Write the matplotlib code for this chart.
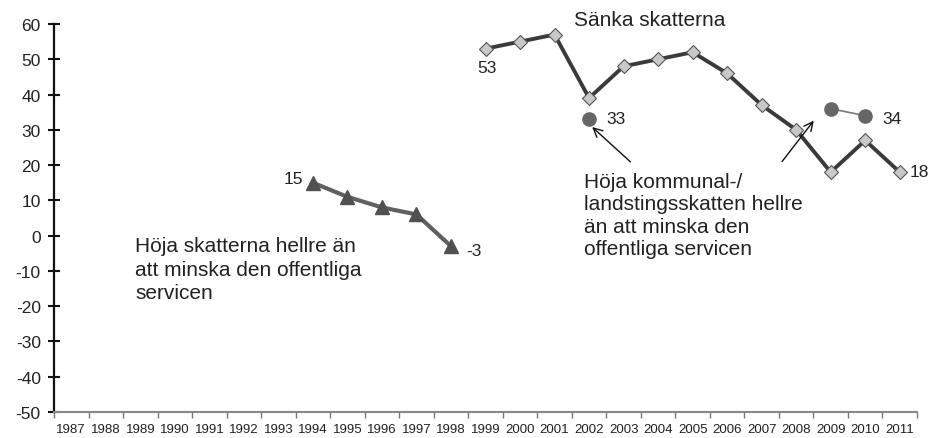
import matplotlib
matplotlib.use("Agg")
import matplotlib.pyplot as plt
import numpy as np

plt.rcParams['font.family'] = ['Liberation Sans', 'DejaVu Sans']

years = list(range(1987, 2012))
tri_years = [1994, 1995, 1996, 1997, 1998]
tri_vals = [15, 11, 8, 6, -3]
dia_years = list(range(1999, 2012))
dia_vals = [53, 55, 57, 39, 48, 50, 52, 46, 37, 30, 18, 27, 18]
circ_years = [2002, 2009, 2010]
circ_vals = [33, 36, 34]
y_ticks = list(range(-50, 61, 10))

W, H = 931, 439
fig = plt.figure(figsize=(W / 100, H / 100), dpi=100)
ax = fig.add_axes([54 / W, (H - 413) / H, (917 - 54) / W, (413 - 25) / H])

def xi(y):
    return years.index(y)

tx = [xi(y) for y in tri_years]
dx = [xi(y) for y in dia_years]
cx = [xi(y) for y in circ_years]

ax.plot(tx, tri_vals, color='#606060', lw=3, marker='^', ms=9.5,
        mfc='#505050', mec='#505050', zorder=3)
ax.plot(dx, dia_vals, color='#3a3a3a', lw=2.8, marker='D', ms=7,
        mfc='#c8c8c8', mec='#555555', mew=0.8, zorder=3)
ax.plot(cx[:1], circ_vals[:1], ls='none', marker='o', ms=9.5,
        mfc='#666666', mec='#666666', zorder=3)
ax.plot(cx[1:], circ_vals[1:], color='#777777', lw=1.2, marker='o', ms=9.5,
        mfc='#666666', mec='#666666', zorder=3)

ax.set_xlim(-0.5, len(years) - 0.5)
ax.set_ylim(-50, 60)
ax.set_yticks(y_ticks)
ax.set_yticklabels([str(v) for v in y_ticks], fontsize=12.5, color='#222222')
ax.set_xticks(range(len(years)))
ax.set_xticklabels([str(y) for y in years], fontsize=9.5, color='#222222')
ax.set_xticks(np.arange(-0.5, len(years), 1.0), minor=True)
ax.tick_params(axis='x', which='major', length=0, pad=8)
ax.tick_params(axis='x', which='minor', length=4, width=1, color='#777777', direction='out')
ax.tick_params(axis='y', direction='inout', length=9, width=1.5, color='#111111', pad=5)

for s in ['top', 'right']:
    ax.spines[s].set_visible(False)
ax.spines['left'].set_color('#111111')
ax.spines['left'].set_linewidth(1.6)
ax.spines['bottom'].set_color('#888888')
ax.spines['bottom'].set_linewidth(1.5)

fs_num = 12.5
c = '#222222'
ax.text(12.05, 47.7, '53', fontsize=fs_num, ha='center', va='center', color=c)
ax.text(6.72, 16.3, '15', fontsize=fs_num, ha='right', va='center', color=c)
ax.text(11.45, -4.2, '-3', fontsize=fs_num, ha='left', va='center', color=c)
ax.text(15.5, 33.1, '33', fontsize=fs_num, ha='left', va='center', color=c)
ax.text(23.5, 33.1, '34', fontsize=fs_num, ha='left', va='center', color=c)
ax.text(24.3, 18.2, '18', fontsize=fs_num, ha='left', va='center', color=c)

fs_txt = 15
ax.text(14.55, 61.4, 'Sänka skatterna', fontsize=fs_txt, ha='left', va='center', color=c,
        clip_on=False)
ax.text(1.85, -17.7, 'Höja skatterna hellre än\natt minska den offentliga\nservicen',
        fontsize=fs_txt, ha='left', va='baseline', color=c, linespacing=1.3)
ax.text(14.86, -5.2, 'Höja kommunal-/\nlandstingsskatten hellre\nän att minska den\noffentliga servicen',
        fontsize=fs_txt, ha='left', va='baseline', color=c, linespacing=1.22)

ax.annotate('', xy=(15.09, 30.8), xytext=(16.2, 20.9),
            arrowprops=dict(arrowstyle='->', color='#111111', lw=1, mutation_scale=16,
                            shrinkA=0, shrinkB=0))
ax.annotate('', xy=(21.51, 32.6), xytext=(20.59, 21.0),
            arrowprops=dict(arrowstyle='->', color='#111111', lw=1, mutation_scale=16,
                            shrinkA=0, shrinkB=0))

fig.savefig('out.png', dpi=100)
